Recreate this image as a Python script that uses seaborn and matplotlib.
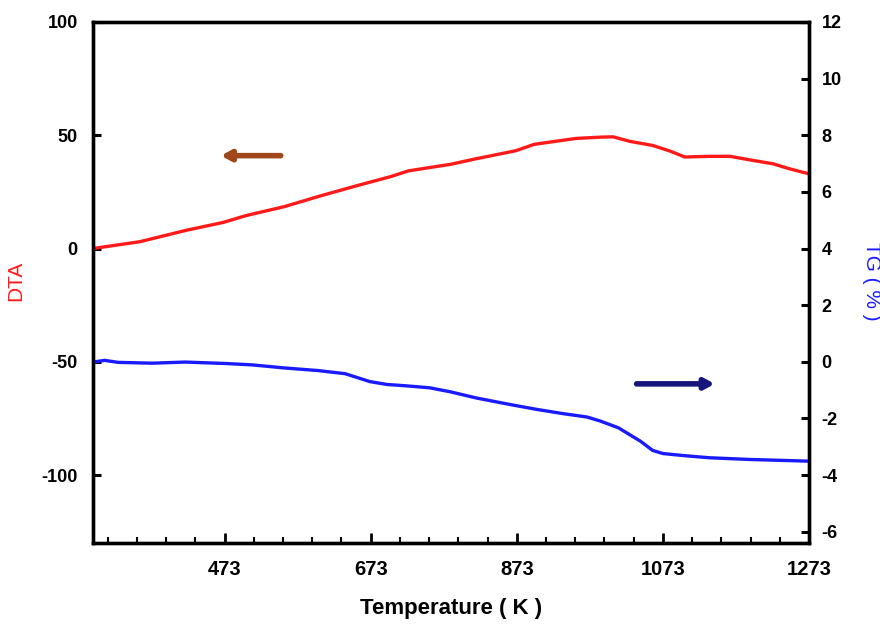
import numpy as np
import pandas as pd
import matplotlib
matplotlib.use('Agg')
import matplotlib.pyplot as plt
import seaborn as sns

# DTA curve (left axis)
dta_temp = [293, 357, 420, 471, 502, 555, 605, 656, 700, 725, 783, 814, 872, 897,
            954, 990, 1005, 1028, 1059, 1083, 1103, 1137, 1165, 1196, 1224, 1243, 1263, 1273]
dta_val = [0, 3, 8, 11.5, 14.5, 18.5, 23.3, 27.9, 31.7, 34.3, 37.2, 39.4, 43.2, 46,
           48.6, 49.2, 49.3, 47.3, 45.5, 43.0, 40.4, 40.7, 40.7, 38.9, 37.4, 35.5, 33.8, 33.0]

# TG curve (right axis)
tg_temp = [293, 309, 327, 374, 419, 474, 511, 556, 601, 638, 672, 695, 722, 754, 782,
           818, 864, 900, 936, 969, 987, 1012, 1042, 1059, 1073, 1100, 1137, 1192, 1273]
tg_val = [-0.01, 0.05, -0.02, -0.05, -0.01, -0.06, -0.11, -0.22, -0.31, -0.42, -0.70,
          -0.80, -0.85, -0.92, -1.06, -1.28, -1.51, -1.68, -1.83, -1.95, -2.09, -2.33,
          -2.80, -3.13, -3.24, -3.31, -3.39, -3.45, -3.51]

x_ticks = [473, 673, 873, 1073, 1273]
left_ticks = [-100, -50, 0, 50, 100]
right_ticks = [-6, -4, -2, 0, 2, 4, 6, 8, 10, 12]

df_dta = pd.DataFrame({'T': dta_temp, 'DTA': dta_val})
df_tg = pd.DataFrame({'T': tg_temp, 'TG': tg_val})

sns.set_style('ticks')
plt.rcParams['font.family'] = ['Liberation Sans', 'DejaVu Sans']
plt.rcParams['axes.unicode_minus'] = False
plt.rcParams['text.color'] = 'black'
plt.rcParams['axes.labelcolor'] = 'black'
plt.rcParams['xtick.color'] = 'black'
plt.rcParams['ytick.color'] = 'black'

fig = plt.figure(figsize=(8.8, 6.25), dpi=100)
ax = fig.add_axes([93/880, 1-543/625, (809-93)/880, (543-22)/625])
ax2 = ax.twinx()

sns.lineplot(x='T', y='DTA', data=df_dta, ax=ax, color='#ff1a1a', lw=2.4)
sns.lineplot(x='T', y='TG', data=df_tg, ax=ax2, color='#1a1aff', lw=2.4)

ax.set_xlim(293, 1273)
ax.set_ylim(-130, 100)
ax2.set_ylim(-6.4, 12)

ax.set_xticks(x_ticks)
ax.set_xticks(np.arange(313, 1274, 40), minor=True)
ax.set_yticks(left_ticks)
ax2.set_yticks(right_ticks)

for a in (ax, ax2):
    for s in a.spines.values():
        s.set_linewidth(2.4)
        s.set_color('black')

ax.tick_params(axis='x', which='major', direction='in', length=7, width=2, pad=12,
               labelsize=14.5, labelcolor='black')
ax.tick_params(axis='x', which='minor', direction='in', length=4, width=1.5)
ax.tick_params(axis='y', direction='in', length=6, width=2.2, pad=11, labelsize=13,
               labelcolor='black')
ax2.tick_params(axis='y', direction='in', length=6, width=2.2, pad=9, labelsize=13,
                labelcolor='black')

for lab in ax.get_yticklabels() + ax2.get_yticklabels() + ax.get_xticklabels():
    lab.set_fontweight('bold')

ax.set_xlabel('Temperature ( K )', fontsize=16, fontweight='bold', labelpad=14,
              color='black')
ax.set_ylabel('')
ax2.set_ylabel('')
fig.text(16/880, 1-281/625, 'DTA', fontsize=15, color='#ff1a1a', rotation=90,
         ha='center', va='center')
fig.text(871/880, 1-281/625, 'TG ( % )', fontsize=15, color='#1a1aff', rotation=-90,
         ha='center', va='center')

ax.annotate('', xy=(468, 41), xytext=(550, 41),
            arrowprops=dict(arrowstyle='-|>,head_length=0.55,head_width=0.3',
                            lw=4, color='#a0461a', shrinkA=0, shrinkB=0))
ax2.annotate('', xy=(1144, -0.78), xytext=(1037, -0.78),
             arrowprops=dict(arrowstyle='-|>,head_length=0.55,head_width=0.3',
                             lw=4, color='#15157a', shrinkA=0, shrinkB=0))

fig.savefig('out.png', dpi=100)
